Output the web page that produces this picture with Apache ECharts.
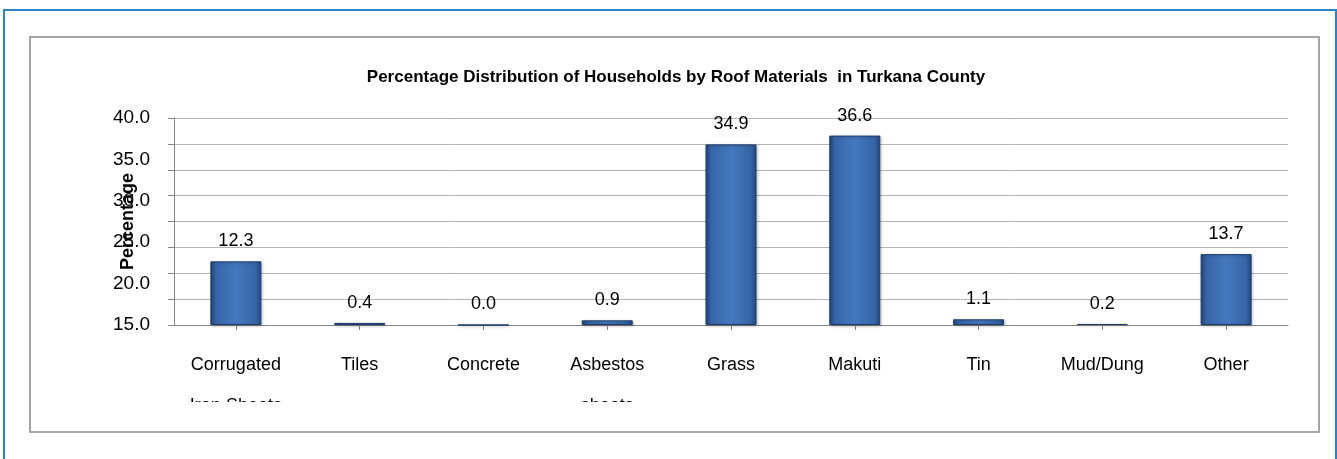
<!DOCTYPE html>
<html>
<head>
<meta charset="utf-8">
<script src="https://cdn.jsdelivr.net/npm/echarts@6/dist/echarts.min.js"></script>
<style>
html,body{margin:0;padding:0;background:#fff;}
#chart{width:1337px;height:459px;}
</style>
</head>
<body>
<div id="chart"></div>
<script>
var titleText = 'Percentage Distribution of Households by Roof Materials  in Turkana County';
var categories = ['Corrugated\nIron Sheets', 'Tiles', 'Concrete', 'Asbestos\nsheets', 'Grass', 'Makuti', 'Tin', 'Mud/Dung', 'Other'];
var values = [12.3, 0.4, 0.0, 0.9, 34.9, 36.6, 1.1, 0.2, 13.7];
var yTickLabels = ['15.0', '20.0', '25.0', '30.0', '35.0', '40.0'];
var yAxisName = 'Percentage';

var FONT = '"Liberation Sans", Arial, sans-serif';
var chart = echarts.init(document.getElementById('chart'), null, {renderer: 'canvas'});
var barGrad = new echarts.graphic.LinearGradient(0, 0, 1, 0, [
  {offset: 0, color: '#22497f'},
  {offset: 0.12, color: '#3766a8'},
  {offset: 0.5, color: '#4478bf'},
  {offset: 0.88, color: '#3766a8'},
  {offset: 1, color: '#22497f'}
]);
chart.setOption({
  animation: false,
  backgroundColor: '#fff',
  title: {
    text: titleText,
    left: 671, top: 64, textAlign: 'center',
    textStyle: {fontFamily: FONT, fontSize: 17, fontWeight: 'bold', color: '#000'}
  },
  grid: {left: 174, right: 49, top: 118, bottom: 134, containLabel: false},
  xAxis: {
    type: 'category',
    data: categories,
    axisLine: {lineStyle: {color: '#868686', width: 1}},
    axisTick: {show: true, alignWithLabel: true, length: 5, lineStyle: {color: '#868686'}},
    axisLabel: {
      interval: 0, margin: 20, color: '#000',
      fontFamily: FONT, fontSize: 18, lineHeight: 41, verticalAlign: 'top'
    }
  },
  yAxis: [{
    type: 'value', min: 0, max: 40, interval: 5,
    axisLine: {show: true, lineStyle: {color: '#868686'}},
    axisTick: {show: true, length: 6, lineStyle: {color: '#868686'}},
    axisLabel: {show: false},
    splitLine: {show: true, lineStyle: {color: '#b3b3b3', width: 1}},
    name: yAxisName, nameLocation: 'middle', nameGap: 37,
    nameTextStyle: {fontFamily: FONT, fontSize: 18, fontWeight: 'bold', color: '#000'}
  }, {
    type: 'value', position: 'left', min: 0, max: 5, interval: 1,
    axisLine: {show: false}, axisTick: {show: false}, splitLine: {show: false},
    axisLabel: {
      margin: 24, color: '#000', fontFamily: FONT, fontSize: 19,
      formatter: function (v) { return yTickLabels[Math.round(v)]; }
    }
  }],
  series: [{
    type: 'bar',
    yAxisIndex: 0,
    data: values,
    barWidth: 51,
    itemStyle: {color: barGrad, borderColor: '#1d3d6e', borderWidth: 1,
      shadowColor: 'rgba(0,0,0,0.25)', shadowBlur: 3, shadowOffsetX: 1, shadowOffsetY: 1},
    label: {
      show: true, position: 'top', distance: 11, color: '#000',
      fontFamily: FONT, fontSize: 18,
      formatter: function (p) { return p.value.toFixed(1); }
    }
  }],
  graphic: [
    {type: 'rect', z: 100, silent: true, shape: {x: 32, y: 402, width: 1284, height: 28}, style: {fill: '#fff'}},
    {type: 'rect', z: 101, silent: true, shape: {x: 30, y: 37, width: 1289, height: 395}, style: {fill: 'none', stroke: '#a6a6a6', lineWidth: 2}},
    {type: 'rect', z: 101, silent: true, shape: {x: 4, y: 10, width: 1332, height: 460}, style: {fill: 'none', stroke: '#2f82c8', lineWidth: 2}}
  ]
});
</script>
</body>
</html>
